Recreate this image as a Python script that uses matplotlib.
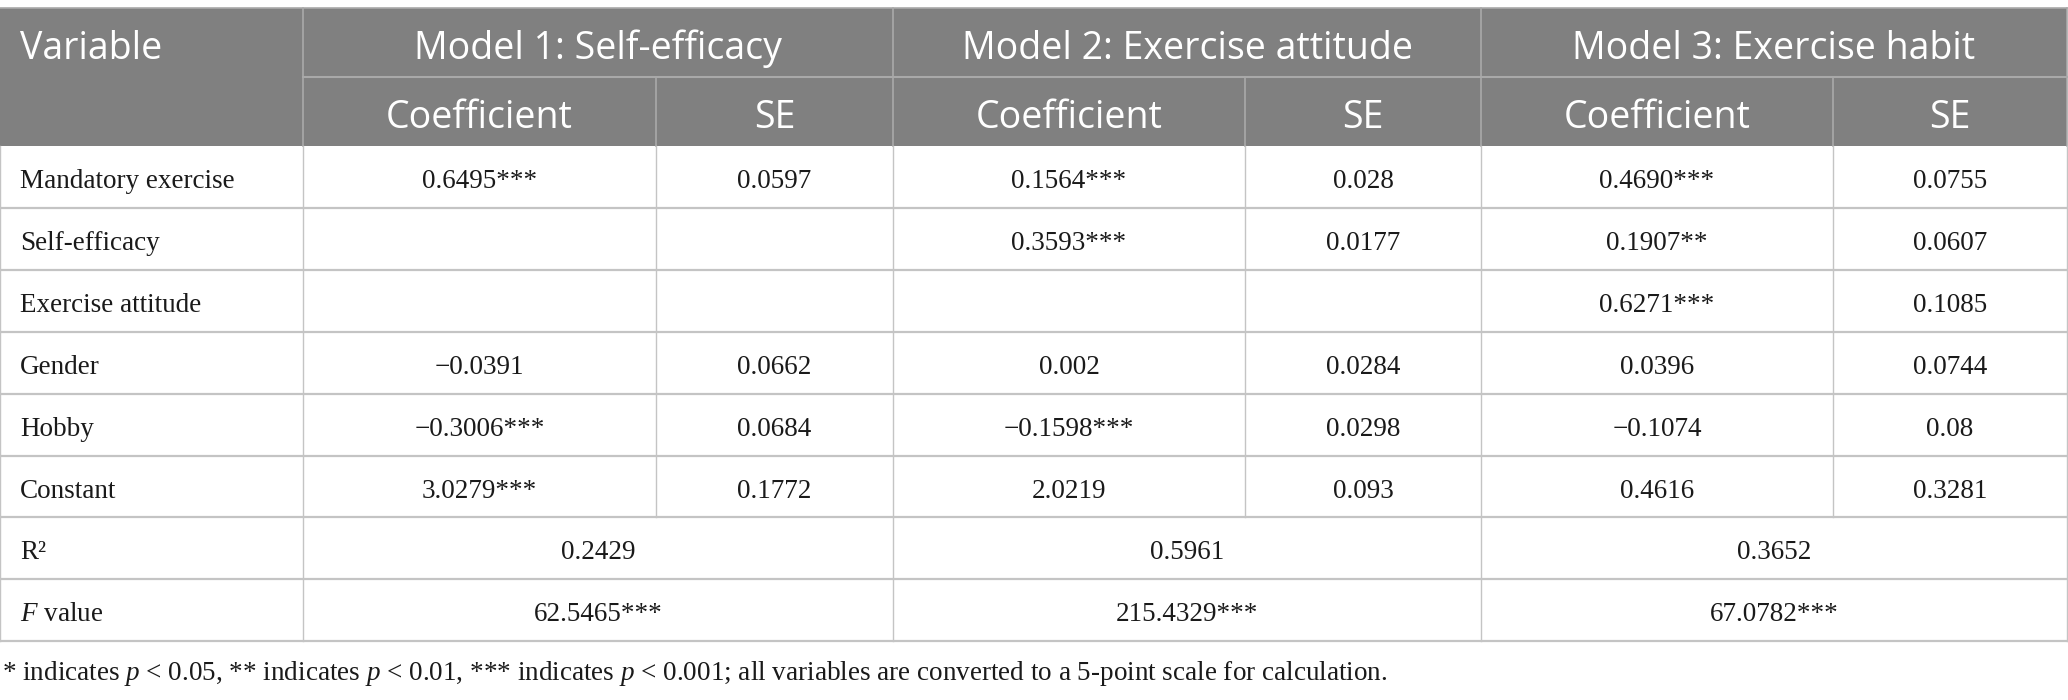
import matplotlib
matplotlib.use("Agg")
import matplotlib.pyplot as plt
from matplotlib.patches import Rectangle

#------------------------------------------------Data

variables = ["Mandatory exercise", "Self-efficacy", "Exercise attitude",
             "Gender", "Hobby", "Constant"]
models = ["Model 1: Self-efficacy", "Model 2: Exercise attitude", "Model 3: Exercise habit"]
sub_heads = ["Coefficient", "SE"]

m1_coef = ["0.6495***", "", "", "\u22120.0391", "\u22120.3006***", "3.0279***"]
m1_se = ["0.0597", "", "", "0.0662", "0.0684", "0.1772"]
m2_coef = ["0.1564***", "0.3593***", "", "0.002", "\u22120.1598***", "2.0219"]
m2_se = ["0.028", "0.0177", "", "0.0284", "0.0298", "0.093"]
m3_coef = ["0.4690***", "0.1907**", "0.6271***", "0.0396", "\u22120.1074", "0.4616"]
m3_se = ["0.0755", "0.0607", "0.1085", "0.0744", "0.08", "0.3281"]

r2_vals = ["0.2429", "0.5961", "0.3652"]
f_vals = ["62.5465***", "215.4329***", "67.0782***"]

note = ("* indicates $p$ < 0.05, ** indicates $p$ < 0.01, *** indicates $p$ < 0.001; "
        "all variables are converted to a 5-point scale for calculation.")

#------------------------------------------------Style

plt.rcParams['mathtext.fontset'] = 'custom'
plt.rcParams['mathtext.rm'] = 'Liberation Serif'
plt.rcParams['mathtext.it'] = 'Liberation Serif:italic'

head_bg = "#808080"
head_line = "#a9a9a9"
body_line = "#c4c4c4"
txt = "#1a1a1a"
sans = "Open Sans"
serif = "Liberation Serif"
fs_head = 27
fs_body = 19.5

col_x = [0, 303, 656, 893, 1245, 1481, 1833, 2067]
top = 8
h_head = 69
h_row = 61.9
base_head = 51      # baseline offset in header rows
base_body = 42      # baseline offset in body rows

#------------------------------------------------Figure

fig = plt.figure(figsize=(20.68, 7.0), dpi=100)
ax = fig.add_axes([0, 0, 1, 1])
ax.set_xlim(0, 2068)
ax.set_ylim(700, 0)
ax.axis("off")

y_h1 = top + h_head
y_h2 = top + 2 * h_head
ax.add_patch(Rectangle((col_x[0], top), col_x[-1] - col_x[0], 2 * h_head,
                       facecolor=head_bg, edgecolor="none"))

# header lines
ax.plot([col_x[1], col_x[-1]], [y_h1, y_h1], color=head_line, lw=1.5)
for x in col_x[1::2]:
    ax.plot([x, x], [top, y_h2], color=head_line, lw=1.2)
for x in col_x[2:-1:2]:
    ax.plot([x, x], [y_h1, y_h2], color=head_line, lw=1.2)
ax.plot([col_x[0], col_x[-1]], [top, top], color=head_line, lw=1.2)

ax.text(20, top + base_head, "Variable", family=sans, fontsize=fs_head,
        color="white", ha="left", va="baseline")
for i, m in enumerate(models):
    xc = (col_x[1 + 2 * i] + col_x[3 + 2 * i]) / 2
    ax.text(xc, top + base_head, m, family=sans, fontsize=fs_head,
            color="white", ha="center", va="baseline")
    for j, s in enumerate(sub_heads):
        xs = (col_x[1 + 2 * i + j] + col_x[2 + 2 * i + j]) / 2
        ax.text(xs, y_h1 + base_head, s, family=sans, fontsize=fs_head,
                color="white", ha="center", va="baseline")

# body
cols = [m1_coef, m1_se, m2_coef, m2_se, m3_coef, m3_se]
n_rows = len(variables) + 2
y_bot = y_h2 + n_rows * h_row

for r, var in enumerate(variables):
    yb = y_h2 + r * h_row + base_body
    ax.text(20, yb, var, family=serif, fontsize=fs_body, color=txt,
            ha="left", va="baseline")
    for c, col in enumerate(cols):
        xc = (col_x[c + 1] + col_x[c + 2]) / 2
        ax.text(xc, yb, col[r], family=serif, fontsize=fs_body, color=txt,
                ha="center", va="baseline")

for k, (lab, vals) in enumerate([("R\u00b2", r2_vals), ("$F$ value", f_vals)]):
    yb = y_h2 + (len(variables) + k) * h_row + base_body
    ax.text(20, yb, lab, family=serif, fontsize=fs_body, color=txt,
            ha="left", va="baseline")
    for i, v in enumerate(vals):
        xc = (col_x[1 + 2 * i] + col_x[3 + 2 * i]) / 2
        ax.text(xc, yb, v, family=serif, fontsize=fs_body, color=txt,
                ha="center", va="baseline")

for r in range(1, n_rows + 1):
    y = y_h2 + r * h_row
    ax.plot([col_x[0], col_x[-1]], [y, y], color=body_line, lw=1.6)
y_split = y_h2 + len(variables) * h_row
inner = col_x[2:-1:2]
for x in col_x:
    if x in inner:
        ax.plot([x, x], [y_h2, y_split], color=body_line, lw=1.0)
    else:
        ax.plot([x, x], [y_h2, y_bot], color=body_line, lw=1.0)

ax.text(2, 680, note, family=serif, fontsize=fs_body, color=txt,
        ha="left", va="baseline")

fig.savefig("out.png", dpi=100)
